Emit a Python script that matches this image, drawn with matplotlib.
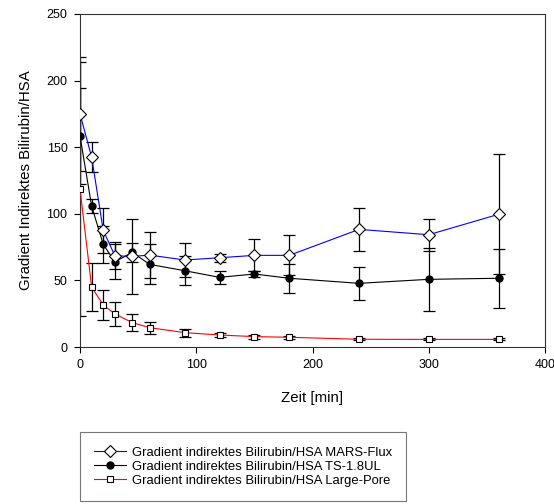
import matplotlib
matplotlib.use("Agg")
import matplotlib.pyplot as plt
import numpy as np

plt.rcParams['font.family'] = ['Liberation Sans', 'DejaVu Sans']

time = [0, 10, 20, 30, 45, 60, 90, 120, 150, 180, 240, 300, 360]

mars = [175, 142.6, 87.5, 68.5, 68, 69, 65.3, 67, 68.8, 68.8, 88.3, 84.3, 99.6]
mars_err = [42.5, 11, 17, 10, 28, 17, 13, 3, 12, 15, 16, 12, 45]

ts = [158.4, 105.8, 77, 64, 71, 62, 57.3, 52.3, 54.8, 51.6, 47.8, 50.8, 51.6]
ts_err = [36, 5.5, 14, 13, 7, 15, 11, 5, 2, 11, 12.5, 23.5, 22]

lp = [118.6, 45, 31.5, 24.8, 18.3, 14.5, 10.8, 9, 7.8, 7.3, 5.8, 5.7, 5.7]
lp_err = [95, 18, 11, 9, 6.5, 4.5, 3, 1.5, 1.5, 1, 0.8, 0.8, 0.8]

labels = ["Gradient indirektes Bilirubin/HSA MARS-Flux",
          "Gradient indirektes Bilirubin/HSA TS-1.8UL",
          "Gradient indirektes Bilirubin/HSA Large-Pore"]

fig = plt.figure(figsize=(5.54, 5.04), dpi=100)
ax = fig.add_axes([80/554, 1-347/504, (545-80)/554, (347-14)/504])

ekw = dict(ecolor='black', elinewidth=0.9, capsize=4.5, capthick=0.9, zorder=2)

ax.errorbar(time, lp, yerr=lp_err, fmt='none', **ekw)
ax.errorbar(time, ts, yerr=ts_err, fmt='none', **ekw)
ax.errorbar(time, mars, yerr=mars_err, fmt='none', **ekw)

h1, = ax.plot(time, mars, color='#0000ff', lw=0.8, marker='D', ms=6,
              mfc='white', mec='black', mew=0.8, zorder=5, label=labels[0])
h2, = ax.plot(time, ts, color='black', lw=0.8, marker='o', ms=5,
              mfc='black', mec='black', zorder=4, label=labels[1])
h3, = ax.plot(time, lp, color='#ff0000', lw=0.8, marker='s', ms=5,
              mfc='white', mec='black', mew=0.8, zorder=3, label=labels[2])

ax.set_xlim(0, 400)
ax.set_ylim(0, 250)
ax.set_xticks([0, 100, 200, 300, 400])
ax.set_yticks([0, 50, 100, 150, 200, 250])
ax.tick_params(labelsize=9, direction='out', length=4, width=0.8, pad=5)
ax.tick_params(axis='both', which='both', top=False, right=False)
for s in ax.spines.values():
    s.set_linewidth(0.8)
    s.set_color('#333333')

ax.set_xlabel("Zeit [min]", fontsize=10.8, labelpad=14)
ax.set_ylabel("Gradient Indirektes Bilirubin/HSA", fontsize=10.8, labelpad=10)

leg = fig.legend(handles=[h1, h2, h3], loc='upper left',
                 bbox_to_anchor=(80/554, 1-432/504), fontsize=9.4,
                 frameon=True, fancybox=False, handlelength=2.4,
                 borderpad=1.1, labelspacing=0.15, handletextpad=0.45,
                 borderaxespad=0)
leg.get_frame().set_edgecolor('#555555')
leg.get_frame().set_linewidth(0.8)

fig.savefig("out.png", dpi=100)
